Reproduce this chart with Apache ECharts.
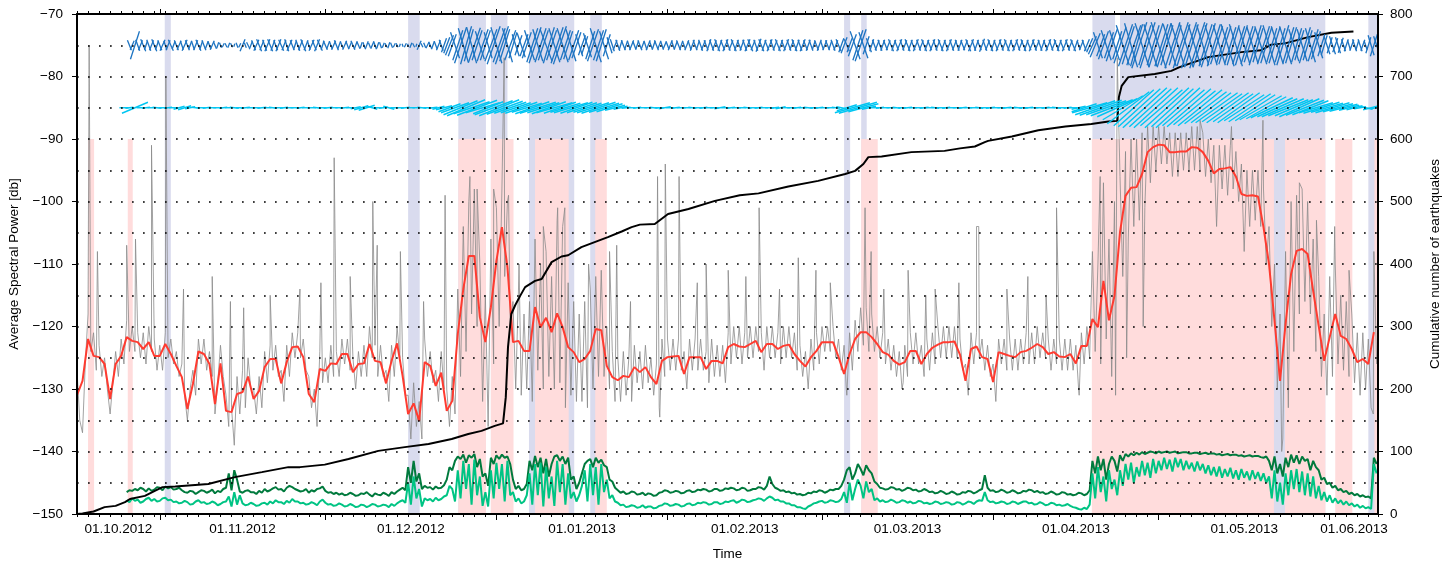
<!DOCTYPE html>
<html><head><meta charset="utf-8">
<script src="https://cdn.jsdelivr.net/npm/echarts@6/dist/echarts.min.js"></script>
<style>html,body{margin:0;padding:0;background:#fff}#c{width:1454px;height:562px}</style>
</head><body><div id="c"></div>
<script>
// time unit: days since 2012-10-17 00:00
const X_MAX = 235.75;
const monthTicks = [15,45,76,107,135,166,196,227];
const monthLabelPos = [7.5,30,60.5,91.5,121,150.5,181,211.5,231.4];
const monthLabels = ['01.10.2012','01.11.2012','01.12.2012','01.01.2013','01.02.2013','01.03.2013','01.04.2013','01.05.2013','01.06.2013'];

// shaded periods [start, end] in days
const blueBands = [[15.9,17.0],[60.0,62.1],[69.1,74.1],[75.0,78.0],[81.9,90.1],[93.0,95.1],[139.0,140.1],[142.1,143.1],[184.0,188.1],[189.0,226.2],[234.0,235.75]];
const pinkBands = [[2.0,3.1],[9.2,10.1],[69.1,74.1],[75.0,79.1],[83.0,89.1],[93.9,96.0],[142.1,145.1],[183.9,216.9],[218.9,226.2],[228.0,231.1],[235.1,235.75]];

// daily mean spectral power (red), one value per day from day 0
const redDb = [-131,-128.7,-122,-124.7,-124.9,-126,-131.6,-126,-124.7,-121.7,
-122.3,-122.5,-123.6,-122.5,-124.7,-124.7,-122.8,-124.4,-126.3,-128.1,
-133.2,-129.2,-124,-124.4,-126,-132.4,-125.9,-133.5,-133.7,-130.8,
-130.5,-128,-131.6,-130.3,-126.5,-125.2,-125.2,-129.1,-125.7,-123.3,
-123.2,-124.9,-130.8,-132.1,-126.8,-127.1,-125.9,-126,-124.4,-124.4,
-127.3,-126,-125.9,-122.8,-125.5,-125.7,-129.1,-125.5,-122.7,-127.9,
-134,-132.3,-135.1,-125.7,-126.3,-129.5,-127.4,-133.5,-131.9,-121.2,
-114,-108.7,-108.7,-118.5,-122.5,-116.9,-109.5,-104.1,-110.5,-122.5,
-122.3,-123.9,-123.9,-116.9,-120.1,-118.6,-120.9,-117.9,-120.1,-123.3,
-124.1,-125.7,-125.2,-123.9,-120.4,-120.6,-126.3,-128.1,-128.6,-127.9,
-128.1,-126.5,-127.3,-126.5,-128.1,-129.2,-125.5,-124.9,-124.8,-124.7,
-127.6,-124.9,-124.9,-124.9,-126.8,-125.5,-125.5,-125.9,-123.3,-122.8,
-123.2,-123.3,-122.8,-122.3,-124.1,-122.8,-122.8,-123.6,-123.1,-122.9,
-124.4,-125.5,-126.4,-124.9,-123.9,-122.5,-122.5,-122.5,-124.9,-127.6,
-124.4,-122,-120.9,-120.9,-121.7,-122.8,-124.1,-124.5,-125.5,-126.1,
-125.7,-123.9,-123.9,-126,-124.4,-123.4,-122.9,-122.5,-122.5,-122.4,
-124.5,-128.7,-123.6,-123.2,-124.9,-125.2,-128.9,-124.1,-124.4,-124.7,
-124.9,-124.1,-123.9,-123.4,-122.8,-123.3,-124.4,-124.1,-124.8,-124.9,
-124.4,-125.9,-123.1,-123.1,-118.8,-120.1,-112.7,-119,-115.1,-104.9,
-99.1,-97.8,-97.7,-95.6,-92.1,-91.3,-90.9,-91,-92.1,-92.1,
-92,-92,-91.3,-91.4,-92.1,-93.5,-95.5,-94.8,-94.7,-94.5,
-96,-98.8,-99.1,-99,-99.2,-104.1,-110,-119.1,-128.7,-119.6,
-111.6,-107.9,-107.6,-108.4,-114.3,-119.9,-125.5,-121.7,-118,-121.5,
-122,-123.6,-125.7,-125.2,-126,-120.9];

// raw spectral power (grey), every 12 h from day 0
const greyDb = [
-127,-135,-137,-126,-118,-124,-121,-127,-123,-128,-125,-130,-134,-129,-124,-128,-122,-126,-119,-124,
-120,-124,-121,-125,-121,-126,-120,-124,-122,-127,-123,-127,-121,-125,-122,-126,-124,-128,-126,-131,
-135,-130,-127,-131,-122,-126,-122,-127,-124,-128,-134,-129,-123,-128,-131,-136,-133,-139,-128,-134,
-127,-133,-125,-130,-130,-134,-128,-133,-124,-129,-123,-127,-123,-128,-127,-132,-123,-128,-121,-125,
-121,-125,-122,-127,-128,-133,-130,-136,-124,-129,-125,-129,-123,-128,-124,-128,-122,-126,-122,-127,
-125,-130,-124,-128,-123,-128,-120,-125,-123,-128,-123,-128,-127,-132,-123,-128,-120,-125,-125,-131,
-131,-138,-129,-136,-132,-138,-122,-128,-124,-129,-127,-132,-124,-130,-130,-136,-128,-134,-114,-128,
-104,-124,-100,-118,-98,-120,-110,-132,-115,-136,-106,-126,-101,-120,-98,-112,-100,-120,-116,-130,
-114,-131,-118,-130,-116,-132,-106,-127,-110,-130,-108,-128,-112,-130,-103,-129,-104,-133,-113,-131,
-116,-132,-118,-132,-116,-133,-114,-130,-112,-128,-111,-128,-120,-130,-124,-132,-125,-132,-124,-131,
-125,-132,-123,-129,-124,-130,-123,-129,-125,-131,-126,-133,-122,-128,-122,-127,-122,-127,-122,-127,
-124,-130,-122,-127,-122,-127,-122,-127,-124,-129,-122,-128,-123,-128,-123,-129,-121,-126,-120,-125,
-120,-126,-121,-125,-120,-125,-120,-124,-121,-127,-120,-125,-120,-125,-121,-126,-120,-125,-120,-125,
-121,-127,-123,-128,-124,-130,-122,-127,-121,-126,-120,-124,-120,-124,-120,-125,-122,-127,-123,-131,
-121,-127,-119,-124,-117,-123,-117,-124,-118,-124,-120,-125,-121,-126,-122,-127,-123,-128,-124,-130,
-123,-128,-121,-126,-121,-126,-123,-128,-122,-127,-121,-126,-120,-125,-120,-125,-120,-125,-120,-125,
-122,-127,-126,-131,-121,-126,-121,-125,-122,-127,-123,-128,-126,-132,-122,-126,-122,-127,-122,-127,
-122,-127,-122,-126,-121,-126,-121,-126,-120,-125,-121,-125,-122,-127,-122,-126,-122,-127,-122,-127,
-122,-127,-123,-130,-121,-126,-120,-125,-108,-124,-110,-126,-97,-122,-106,-128,-100,-131,-96,-112,
-92,-106,-90,-104,-90,-103,-89,-101,-88,-97,-88,-95,-88,-94,-88,-94,-89,-96,-89,-96,
-89,-95,-89,-95,-88,-95,-88,-95,-89,-96,-90,-97,-91,-104,-91,-98,-91,-99,-91,-98,
-92,-100,-94,-108,-95,-104,-95,-103,-95,-104,-98,-110,-104,-120,-110,-130,-118,-138,-108,-133,
-100,-124,-99,-118,-98,-116,-100,-118,-106,-124,-112,-128,-118,-131,-112,-128,-110,-126,-115,-127,
-116,-128,-118,-129,-121,-131,-121,-130,-122,-133,-108,-126];

// short spikes in the raw power
const spikeDay = [2.2,3.7,9.0,10.6,13.5,16.1,19.3,24.5,27.8,30.2,35.0,40.4,44.2,46.6,49.5,53.6,54.4,58.6,62.8,66.7,71.2,72.5,75.5,77.4,78.2,80.1,84.5,87.1,88.4,92.7,96.5,97.8,100.3,105.2,105.6,106.6,109.1,112.4,114.0,118.0,121.2,123.6,127.3,130.7,133.9,136.5,139.4,142.8,143.9,146.2,149.7,150.6,153.8,155.5,159.8,163.0,163.4,168.5,172.3,175.6,177.5,181.6,185.4,188.2,188.5,190.2,193.2,203.5,209.2,214.9,218.3,221.5,224.6,227.9,230.5,234.9];
const spikeDb = [-75,-108,-107,-106,-91,-80,-114,-112,-116,-117,-115,-114,-113,-93,-112,-100,-107,-108,-116,-99,-96,-98,-98,-77,-99,-110,-104,-101,-101,-110,-108,-107,-116,-96,-134.5,-94,-96,-113,-110,-111,-112,-101,-114,-109,-111,-113,-130,-101,-108,-114,-129,-111,-115,-114,-113,-104,-104,-114,-112,-115,-101,-131,-96,-131,-77,-125,-120,-87,-88,-87,-140,-97,-103,-104,-111,-134];

// cumulative number of earthquakes
const quakeDay = [0,1,3,5,7,8.7,9.6,12.3,14.1,15.5,17.8,23.8,28.6,33.5,38.3,40.4,44.9,49.2,54.6,59.4,63.7,67.9,70.9,73.3,75.7,77.2,77.7,78.1,78.7,79.4,80.3,81.2,83,84.2,86,87.8,89,91.4,93.8,96.2,98.7,100.5,102,104.7,107.1,110.8,115.6,120.1,123.5,128.9,134.3,139.2,141,142.5,143.4,145.8,151.2,157.2,160,162.7,164.5,165.1,169.4,174.2,179.1,183.8,186.9,188.5,188.8,189.3,190.5,195.3,198.3,199.8,205,211,214.6,216.4,218.9,223.1,227.3,231.3];
const quakeCount = [0,1,4,11,13,19,24,29,37,43,44,48,59,67,75,75,79,88,101,107,112,120,128,133,141,145,187,267,320,334,349,363,373,376,403,412,414,427,435,443,452,459,463,464,480,488,501,510,513,524,533,544,549,560,571,572,579,581,585,588,595,597,604,614,620,624,628,629,667,685,699,704,709,715,731,739,742,751,753,763,770,772];

// green power bands, every 12 h from day 9
const darkGreenDb = [
-146.5,-146.2,-146.3,-146.0,-146.2,-145.8,-146.0,-146.4,-145.9,-146.3,-146.1,-145.7,-145.8,-146.2,-145.6,-145.9,-145.7,-146.1,-146.0,-145.8,
-146.2,-146.5,-146.6,-146.3,-146.4,-146.8,-146.5,-146.2,-146.3,-146.6,-146.4,-146.1,-146.7,-146.3,-146.5,-146.0,-145.8,-143.5,-146.2,-143.0,
-144.5,-146.4,-146.6,-146.3,-146.2,-146.5,-146.5,-146.8,-146.3,-146.6,-146.0,-146.4,-146.2,-145.9,-145.7,-146.1,-146.0,-146.4,-145.8,-145.5,
-145.7,-146.0,-146.2,-146.4,-146.3,-146.0,-146.6,-146.2,-146.4,-146.0,-145.9,-145.6,-146.3,-146.6,-146.5,-146.8,-146.6,-146.9,-146.7,-147.0,
-146.9,-146.6,-146.8,-147.1,-147.0,-146.7,-146.8,-146.5,-146.9,-147.2,-146.7,-146.9,-147.0,-146.6,-146.8,-147.1,-146.5,-146.8,-146.4,-146.1,
-145.8,-146.2,-142.5,-145.0,-141.5,-144.8,-143.5,-146.0,-145.5,-145.8,-145.7,-146.1,-145.6,-145.9,-145.8,-145.4,-144.5,-142.5,-143.0,-141.5,
-140.8,-141.2,-140.5,-141.8,-140.6,-141.0,-140.4,-142.5,-141.2,-144.0,-143.5,-145.5,-141.0,-142.0,-140.6,-141.2,-140.5,-141.0,-140.8,-142.0,
-144.5,-146.0,-145.5,-146.2,-146.0,-145.2,-141.5,-143.0,-140.7,-142.5,-141.0,-143.5,-141.2,-144.0,-142.0,-140.8,-140.6,-141.5,-140.8,-142.0,
-141.0,-144.5,-144.0,-146.0,-145.0,-143.5,-142.0,-141.5,-141.2,-142.5,-141.0,-141.8,-141.3,-142.2,-142.5,-144.5,-144.8,-145.8,-146.2,-146.6,
-146.4,-146.8,-146.7,-146.4,-146.5,-146.9,-146.8,-146.6,-147.0,-146.7,-146.8,-147.1,-147.0,-146.6,-146.5,-146.2,-146.3,-146.6,-146.5,-146.3,
-146.4,-146.7,-146.6,-146.3,-146.2,-146.5,-146.4,-146.1,-146.2,-146.0,-146.1,-146.4,-146.3,-146.0,-146.0,-146.3,-146.2,-145.9,-146.0,-145.8,
-145.9,-146.2,-146.1,-145.8,-145.9,-146.3,-146.2,-146.0,-146.0,-145.7,-145.8,-146.1,-145.5,-144.0,-145.2,-145.8,-146.0,-146.3,-146.2,-146.5,
-146.4,-146.7,-146.6,-146.9,-146.8,-147.0,-146.9,-146.6,-146.7,-146.4,-146.5,-146.2,-146.3,-146.6,-146.4,-146.1,-146.2,-146.0,-146.0,-145.5,
-144.5,-143.0,-142.5,-144.5,-143.5,-142.0,-142.8,-143.8,-142.2,-143.0,-143.5,-144.8,-145.2,-145.8,-145.9,-146.1,-146.0,-145.7,-145.8,-146.1,
-146.0,-146.3,-146.1,-145.8,-145.9,-146.2,-146.1,-146.4,-146.3,-146.0,-146.2,-146.5,-146.4,-146.7,-146.6,-146.3,-146.5,-146.8,-146.7,-146.4,
-146.6,-146.9,-146.8,-146.5,-146.6,-146.3,-146.4,-146.7,-146.5,-146.2,-146.0,-143.8,-145.8,-146.3,-146.2,-146.5,-146.4,-146.1,-146.3,-146.6,
-146.5,-146.2,-146.4,-146.7,-146.6,-146.3,-146.4,-146.1,-146.2,-146.5,-146.3,-146.6,-146.5,-146.8,-146.7,-146.4,-146.6,-146.9,-146.8,-146.5,
-146.6,-146.9,-146.8,-147.0,-146.9,-146.6,-146.7,-147.0,-146.8,-146.2,-141.5,-143.5,-140.8,-143.0,-141.2,-144.5,-142.0,-140.8,-141.5,-143.2,
-140.6,-141.5,-140.4,-140.8,-140.3,-140.6,-140.2,-140.5,-140.1,-140.4,-140.2,-140.0,-140.1,-140.3,-140.0,-140.2,-140.1,-140.0,-140.2,-140.1,
-140.0,-140.3,-140.2,-140.1,-140.1,-140.3,-140.3,-140.2,-140.2,-140.4,-140.3,-140.2,-140.4,-140.3,-140.3,-140.5,-140.4,-140.6,-140.5,-140.4,
-140.6,-140.5,-140.5,-140.7,-140.6,-140.8,-140.7,-140.6,-140.8,-140.7,-140.7,-140.9,-141.0,-140.8,-141.5,-143.0,-140.8,-143.5,-142.0,-144.0,
-141.0,-142.5,-140.5,-141.8,-140.6,-142.0,-140.8,-141.5,-141.2,-143.0,-141.5,-142.5,-143.0,-144.5,-144.2,-145.2,-145.0,-145.8,-145.5,-146.2,
-146.0,-146.5,-146.3,-146.8,-146.6,-147.0,-146.8,-147.2,-147.0,-147.3,-147.2,-147.5,-141.0,-142.0];
const lightGreenDb = [
-147.8,-148.1,-147.5,-147.9,-147.7,-148.2,-148.0,-147.6,-147.4,-147.9,-147.6,-148.0,-147.9,-147.5,-147.4,-147.8,-147.7,-148.1,-148.0,-148.3,
-148.2,-147.9,-148.1,-148.5,-148.4,-148.0,-147.8,-148.2,-148.1,-148.4,-148.3,-148.0,-148.2,-148.6,-148.4,-148.1,-148.0,-147.2,-148.8,-146.5,
-148.5,-147.0,-148.3,-148.6,-148.5,-148.2,-148.4,-148.7,-148.6,-148.3,-148.2,-148.5,-148.0,-148.3,-147.8,-148.1,-148.1,-148.4,-147.9,-148.2,
-147.6,-148.0,-148.0,-148.3,-148.2,-148.5,-148.4,-148.1,-148.3,-148.6,-148.0,-147.7,-148.2,-148.5,-148.4,-148.7,-148.6,-148.3,-148.5,-148.8,
-148.7,-148.4,-148.6,-148.9,-148.8,-148.5,-148.6,-148.9,-148.7,-148.4,-148.5,-148.8,-148.7,-148.5,-148.6,-148.9,-148.4,-148.7,-148.3,-148.0,
-147.8,-148.2,-145.0,-148.5,-144.0,-147.5,-146.0,-148.8,-147.5,-147.8,-147.6,-148.0,-147.4,-147.8,-147.6,-147.2,-147.0,-145.5,-146.0,-148.0,
-143.0,-147.5,-141.5,-146.0,-142.0,-148.5,-141.3,-147.0,-144.0,-148.7,-146.5,-148.8,-143.0,-147.5,-141.8,-146.0,-142.0,-148.0,-141.5,-147.0,
-146.5,-148.0,-147.5,-148.3,-148.0,-147.0,-143.5,-148.5,-142.0,-147.0,-141.8,-148.8,-142.5,-147.5,-144.0,-148.7,-141.5,-146.5,-142.0,-148.5,
-143.5,-147.5,-146.5,-148.0,-147.0,-145.5,-143.0,-148.0,-142.0,-147.0,-142.5,-148.5,-142.0,-146.5,-144.5,-147.5,-147.0,-148.0,-148.2,-148.6,
-148.5,-148.9,-148.8,-148.6,-148.7,-149.0,-148.9,-148.6,-149.0,-148.8,-148.8,-149.1,-149.0,-148.7,-148.6,-148.3,-148.4,-148.7,-148.6,-148.4,
-148.5,-148.8,-148.7,-148.4,-148.3,-148.6,-148.5,-148.2,-148.3,-148.1,-148.2,-148.5,-148.4,-148.1,-148.1,-148.4,-148.3,-148.0,-148.1,-147.9,
-147.8,-148.2,-148.0,-147.7,-147.8,-148.1,-148.0,-147.8,-147.7,-147.5,-147.6,-147.9,-147.5,-147.2,-147.4,-147.8,-147.7,-148.0,-148.0,-148.3,
-148.3,-148.6,-148.6,-148.9,-148.9,-149.1,-149.2,-148.8,-148.6,-148.3,-148.2,-148.0,-147.9,-148.2,-148.1,-147.8,-147.9,-148.1,-148.0,-147.6,
-146.5,-148.2,-145.0,-147.8,-146.0,-144.5,-145.5,-147.5,-144.8,-146.5,-146.0,-147.8,-147.5,-148.0,-147.8,-148.1,-148.0,-147.7,-147.9,-148.2,
-148.1,-147.8,-147.9,-148.2,-148.0,-148.3,-148.2,-147.9,-148.0,-148.3,-148.2,-148.4,-148.3,-148.0,-148.1,-148.4,-148.3,-148.1,-148.2,-148.5,
-148.4,-148.1,-148.2,-148.5,-148.3,-148.0,-148.1,-148.4,-148.0,-147.8,-147.9,-146.5,-147.8,-148.1,-148.0,-148.3,-148.2,-148.0,-148.1,-148.4,
-148.3,-148.0,-148.1,-148.4,-148.2,-148.0,-148.0,-148.3,-148.2,-148.5,-148.4,-148.1,-148.3,-148.6,-148.5,-148.2,-148.3,-148.6,-148.5,-148.7,
-148.6,-148.4,-148.7,-148.9,-149.0,-149.2,-149.3,-149.0,-149.2,-148.5,-143.5,-147.5,-142.5,-146.5,-144.0,-148.0,-143.0,-146.0,-144.5,-147.0,
-143.0,-145.5,-142.0,-144.5,-141.8,-145.0,-142.5,-144.0,-141.5,-143.8,-141.8,-144.2,-141.2,-143.5,-141.5,-143.0,-141.0,-142.8,-141.3,-143.2,
-141.0,-142.5,-141.2,-143.0,-141.5,-142.8,-141.8,-143.2,-141.6,-143.0,-142.0,-143.5,-142.2,-143.8,-142.5,-144.0,-142.4,-144.2,-142.8,-144.0,
-142.6,-144.3,-143.0,-144.5,-142.8,-144.2,-143.2,-144.6,-143.0,-144.4,-143.3,-144.7,-143.5,-145.0,-144.0,-147.5,-143.0,-148.0,-145.0,-148.5,
-143.5,-147.0,-143.0,-146.0,-142.8,-146.5,-143.2,-147.0,-143.5,-147.2,-144.0,-147.5,-145.5,-147.8,-146.5,-148.0,-147.0,-148.2,-147.5,-148.3,
-147.8,-148.5,-148.0,-148.6,-148.3,-148.8,-148.5,-149.0,-148.7,-149.1,-148.9,-149.2,-142.0,-143.5];

// wind sticks [u, v] at -75 dB level, every 12 h from day 9.5
const blueWind = [[-4,10],
[4,9],[9,28],[-4,11],[4,10],[-5,12],[3,9],[-4,11],[4,10],[-5,12],[3,9],[-4,10],[5,11],[-3,9],[4,10],[-5,11],[3,8],[-4,10],[4,9],[-3,9],[5,11],
[-4,10],[3,8],[-3,9],[4,10],[-5,11],[3,9],[-4,10],[3,8],[-3,8],[4,9],[-3,7],[2,6],[-2,5],[2,4],[-2,4],[2,5],[-2,4],[1,3],[-2,5],[2,4],
[5,12],[-2,5],[-3,6],[3,8],[-4,10],[5,11],[-5,12],[4,10],[-4,11],[5,12],[-5,12],[4,11],[-4,10],[5,12],[-5,11],[4,10],[-4,12],[5,11],[-4,10],[3,9],
[-4,11],[4,10],[-5,12],[4,10],[-3,9],[5,11],[-4,10],[5,12],[-5,11],[3,9],[-4,9],[3,8],[-3,8],[4,9],[-4,10],[3,8],[-3,7],[4,9],[-3,8],[3,7],
[-4,9],[3,8],[-3,7],[2,6],[-2,6],[3,8],[-2,5],[3,7],[-3,8],[2,6],[-2,6],[2,5],[-2,4],[2,6],[-2,5],[2,4],[-2,4],[1,3],[-1,3],[2,4],
[-1,3],[2,5],[-2,4],[1,3],[4,9],[-2,4],[-2,5],[3,6],[-3,7],[3,8],[-3,8],[4,10],[-4,11],[5,14],[6,16],[8,20],[8,22],[-9,26],[10,30],[12,36],
[-10,34],[11,38],[9,32],[-10,36],[12,35],[10,30],[-9,28],[11,32],[10,30],[-8,26],[12,32],[13,38],[-11,36],[12,34],[13,38],[10,32],[-10,34],[11,30],[8,26],[-7,22],
[7,20],[-8,24],[8,22],[9,26],[-10,30],[11,34],[12,36],[-10,32],[11,34],[10,30],[-12,32],[11,36],[10,30],[-11,34],[12,36],[13,38],[-11,34],[10,30],[9,28],[-10,32],
[10,30],[9,26],[-7,22],[7,20],[6,18],[-8,24],[9,28],[11,32],[-11,34],[10,30],[10,32],[-9,28],[7,22],[-5,16],[-4,12],[4,10],[-4,11],[3,10],[-4,10],[3,9],
[-3,9],[4,10],[-3,8],[3,9],[-4,10],[3,8],[-3,9],[4,10],[-3,8],[3,9],[-4,10],[3,8],[-3,9],[3,7],[-3,8],[4,10],[-3,9],[3,8],[-4,10],[3,9],
[-3,8],[4,10],[-3,9],[4,11],[-4,10],[3,9],[-4,11],[4,10],[-4,10],[4,12],[-4,11],[4,10],[-5,12],[4,11],[-4,10],[5,12],[-4,11],[4,10],[-5,12],[4,11],
[-4,10],[4,11],[-4,11],[5,12],[-5,12],[4,10],[-4,11],[5,13],[-5,12],[4,11],[-4,10],[5,12],[-4,11],[4,10],[-5,12],[4,11],[-4,10],[5,12],[-4,11],[4,10],
[-5,12],[4,11],[-4,11],[5,12],[-4,10],[4,11],[-4,11],[3,9],[-4,10],[4,11],[-3,9],[4,10],[-4,10],[3,9],[-4,11],[4,10],[-5,12],[5,14],[6,16],[-5,12],
[5,14],[8,22],[-10,28],[10,30],[11,32],[-9,26],[6,18],[-5,14],[4,12],[-4,11],[4,10],[-4,11],[4,11],[-4,10],[4,10],[-5,12],[4,11],[-4,10],[5,12],[-4,11],
[4,10],[-5,12],[4,11],[-4,10],[5,12],[-4,11],[4,10],[-5,12],[4,11],[-4,10],[5,12],[-4,11],[4,10],[-5,12],[4,11],[-4,10],[5,12],[-4,11],[4,10],[-4,11],
[4,11],[-4,10],[4,10],[-5,12],[5,12],[-4,11],[4,11],[-4,10],[5,13],[-4,11],[4,10],[-5,12],[4,11],[-4,10],[5,12],[-4,11],[4,10],[-5,12],[4,11],[-4,10],
[5,12],[-4,11],[4,10],[-5,12],[4,11],[-4,10],[5,12],[-4,11],[4,10],[-4,11],[4,11],[-4,10],[5,12],[-4,11],[4,10],[-5,12],[4,11],[-4,10],[5,12],[-4,11],
[4,10],[-5,12],[4,11],[-3,9],[4,10],[-4,11],[5,12],[6,14],[8,18],[10,24],[-9,26],[8,22],[10,28],[-10,30],[9,26],[11,32],[-10,30],[9,28],[12,36],[-13,40],
[14,42],[12,38],[-13,44],[14,40],[12,42],[15,46],[-14,44],[12,40],[15,46],[-13,42],[12,40],[14,44],[-15,46],[13,42],[14,44],[12,40],[-13,42],[15,46],[12,40],[-14,44],
[15,46],[13,42],[-14,44],[15,46],[13,42],[-12,40],[15,46],[14,44],[-12,40],[13,42],[14,44],[-12,40],[13,42],[12,38],[-12,40],[11,36],[12,38],[-13,42],[11,36],[12,40],
[-13,42],[12,38],[12,40],[-11,36],[12,38],[11,34],[-11,36],[12,40],[10,34],[-12,38],[12,38],[11,36],[-12,40],[10,34],[11,36],[-12,38],[10,34],[12,40],[-12,38],[11,36],
[11,36],[-10,32],[10,34],[9,30],[-10,32],[11,36],[9,30],[-10,34],[10,32],[9,28],[-8,26],[7,22],[6,20],[-6,18],[5,16],[-6,18],[5,14],[-5,16],[5,15],[-4,12],
[4,12],[-3,10],[4,11],[-4,12],[3,10],[-4,12],[4,11],[-3,9],[5,16],[-6,20],[7,22],[-6,18]];

// current sticks [u, v] at -85 dB level, daily from day 8.5
const cyanWind = [
[9,0],[8,1],[26,11],[8,0],[8,1],[8,0],[9,-1],[8,0],[8,1],[9,0],
[11,3],[13,4],[10,2],[8,-1],[9,0],[8,1],[8,0],[9,0],[8,1],[8,0],
[9,-1],[8,0],[9,1],[8,0],[8,0],[9,1],[8,0],[8,-1],[9,0],[8,1],
[8,0],[9,0],[8,1],[8,0],[9,0],[8,-1],[8,0],[9,1],[8,0],[8,0],
[9,1],[8,0],[10,2],[14,4],[16,5],[10,-3],[8,0],[9,1],[11,-3],[8,0],
[8,0],[9,1],[8,0],[8,0],[9,-1],[8,0],[9,1],[12,3],[16,4],[22,8],
[28,10],[34,14],[38,16],[36,12],[40,15],[34,10],[30,12],[38,14],[40,16],[36,13],
[32,11],[30,10],[32,11],[30,9],[34,12],[36,11],[32,10],[34,12],[36,10],[32,11],
[30,9],[34,10],[32,11],[30,10],[28,9],[32,10],[34,11],[30,9],[26,8],[20,5],
[14,3],[9,1],[8,0],[8,1],[9,0],[8,0],[8,-1],[9,0],[12,2],[8,0],
[8,1],[9,0],[8,0],[8,-1],[9,0],[8,1],[8,0],[9,0],[11,2],[8,0],
[8,1],[9,0],[8,0],[8,-1],[9,0],[8,1],[8,0],[9,0],[8,1],[10,2],
[8,0],[9,0],[8,1],[8,0],[9,-1],[8,0],[8,1],[9,0],[8,0],[8,-1],
[10,-2],[20,6],[35,10],[38,11],[30,8],[14,3],[9,0],[8,1],[8,0],[9,0],
[8,-1],[8,0],[9,1],[8,0],[8,0],[9,1],[8,0],[8,-1],[9,0],[8,1],
[8,0],[9,0],[8,1],[8,0],[9,0],[8,-1],[8,0],[9,1],[8,0],[8,0],
[9,1],[8,0],[8,-1],[9,0],[8,1],[8,0],[9,0],[8,1],[8,0],[9,-1],
[8,0],[8,1],[9,0],[14,3],[25,8],[35,10],[40,14],[42,15],[40,14],[42,16],
[40,18],[40,24],[42,32],[40,36],[42,38],[44,40],[42,38],[44,40],[42,36],[44,40],
[42,38],[44,40],[42,36],[44,38],[42,34],[44,36],[42,32],[40,30],[42,30],[40,28],
[42,30],[40,28],[42,30],[40,26],[42,28],[40,26],[42,24],[40,22],[42,20],[40,18],
[42,18],[40,16],[38,16],[40,18],[38,15],[36,14],[34,10],[36,11],[32,9],[34,10],
[30,8],[28,7],[20,5],[16,4],[12,2],[14,-3],[16,4],[12,2]];

const GREY_T0 = 0, GREY_STEP = 0.5, GREEN_T0 = 9, GREEN_STEP = 0.5;
const BLUE_T0 = 9.5, BLUE_STEP = 0.5, CYAN_T0 = 8.5, CYAN_STEP = 1;
const BLUE_LEVEL = -75, CYAN_LEVEL = -85;
const STICK_PX = 1.0;

const FONT = 'Liberation Sans, Arial, Helvetica, sans-serif';
const FS = 13.5;

const greySeries = greyDb.map((v,i)=>[GREY_T0 + i*GREY_STEP, v]);
spikeDay.forEach((d,i)=>greySeries.push([d, spikeDb[i]]));
greySeries.sort((a,b)=>a[0]-b[0]);
const redSeries = redDb.map((v,i)=>[i, v]);
const darkG = darkGreenDb.map((v,i)=>[GREEN_T0 + i*GREEN_STEP, v]);
const lightG = lightGreenDb.map((v,i)=>[GREEN_T0 + i*GREEN_STEP, v]);
const quake = quakeDay.map((d,i)=>[d, quakeCount[i]]);

function bandSeries(bands, top, color, z){
  return {type:'custom', xAxisIndex:0, yAxisIndex:0, z:z, silent:true, animation:false,
    data: bands.map(b=>[b[0], b[1]]),
    encode:{x:[0,1]},
    renderItem(params, api){
      const p1 = api.coord([api.value(0), top]);
      const p2 = api.coord([api.value(1), -150]);
      return {type:'rect', shape:{x:p1[0], y:p1[1], width:p2[0]-p1[0], height:p2[1]-p1[1]}, style:{fill:color}};
    }};
}
function stickSeries(pairs, t0, step, level, color, lw){
  return {type:'custom', xAxisIndex:0, yAxisIndex:0, z:4, silent:true, animation:false, clip:true,
    data: pairs.map((p,i)=>[t0 + i*step, p[0], p[1]]),
    encode:{x:0},
    renderItem(params, api){
      const c = api.coord([api.value(0), level]);
      const hu = api.value(1)*STICK_PX/2, hv = api.value(2)*STICK_PX/2;
      return {type:'line', shape:{x1:c[0]-hu, y1:c[1]+hv, x2:c[0]+hu, y2:c[1]-hv}, style:{stroke:color, lineWidth:lw}};
    }};
}
function labelFor(v){
  let best = 0;
  for (let i=1;i<monthLabelPos.length;i++) if (Math.abs(monthLabelPos[i]-v) < Math.abs(monthLabelPos[best]-v)) best = i;
  return monthLabels[best];
}
const axisLineStyle = {color:'#000', width:2};
const chart = echarts.init(document.getElementById('c'), null, {renderer:'canvas'});
chart.setOption({
  animation:false,
  backgroundColor:'#fff',
  grid:{left:77, top:14, width:1301, height:500, containLabel:false, outerBoundsMode:'none'},
  xAxis:[
    {type:'value', position:'bottom', min:0, max:X_MAX, z:10,
     axisLine:{show:true, onZero:false, lineStyle:axisLineStyle},
     axisTick:{show:true, customValues:monthTicks, length:6, lineStyle:{color:'#000', width:1}},
     axisLabel:{show:true, customValues:monthLabelPos, formatter:labelFor, color:'#000', fontSize:FS, fontFamily:FONT, margin:8},
     splitLine:{show:false},
     name:'Time', nameLocation:'middle', nameGap:33, nameTextStyle:{color:'#000', fontSize:FS, fontFamily:FONT}},
    {type:'value', position:'top', min:0, max:X_MAX, z:10,
     axisLine:{show:true, onZero:false, lineStyle:axisLineStyle},
     axisTick:{show:true, customValues:monthTicks, length:5, lineStyle:{color:'#000', width:1}},
     axisLabel:{show:false}, splitLine:{show:false}},
    {type:'value', position:'bottom', min:0, max:X_MAX, interval:2, z:10,
     axisLine:{show:false}, axisTick:{show:true, length:3, lineStyle:{color:'#000', width:1}},
     axisLabel:{show:false}, splitLine:{show:false}},
    {type:'value', position:'top', min:0, max:X_MAX, interval:2, z:10,
     axisLine:{show:false}, axisTick:{show:true, length:3, lineStyle:{color:'#000', width:1}},
     axisLabel:{show:false}, splitLine:{show:false}}
  ],
  yAxis:[
    {type:'value', position:'left', min:-150, max:-70, interval:10, z:10,
     axisLine:{show:true, onZero:false, lineStyle:axisLineStyle},
     axisTick:{show:true, length:5, lineStyle:{color:'#000', width:1}},
     axisLabel:{formatter:v=>(v<0?'\u2212':'')+Math.abs(v), color:'#000', fontSize:FS, fontFamily:FONT, margin:14},
     splitLine:{show:true, lineStyle:{type:[1.7,9.3], color:'#000', width:1.7}},
     minorTick:{show:false, splitNumber:2},
     minorSplitLine:{show:true, lineStyle:{type:[1.7,9.3], color:'#000', width:1.7}},
     name:'Average Spectral Power [db]', nameLocation:'middle', nameGap:50, nameRotate:90,
     nameTextStyle:{color:'#000', fontSize:FS, fontFamily:FONT}},
    {type:'value', position:'right', min:0, max:800, interval:100, z:10,
     axisLine:{show:true, onZero:false, lineStyle:axisLineStyle},
     axisTick:{show:true, length:5, lineStyle:{color:'#000', width:1}},
     axisLabel:{color:'#000', fontSize:FS, fontFamily:FONT, margin:12},
     splitLine:{show:false},
     name:'Cumulative number of earthquakes', nameLocation:'middle', nameGap:50, nameRotate:90,
     nameTextStyle:{color:'#000', fontSize:FS, fontFamily:FONT}}
  ],
  series:[
    bandSeries(blueBands, -70, '#d9dbee', 1),
    bandSeries(pinkBands, -90, '#ffdcdc', 1.5),
    {type:'line', data:greySeries, xAxisIndex:0, yAxisIndex:0, showSymbol:false, symbol:'none', z:2,
     lineStyle:{color:'#8a8a8a', width:0.8}, silent:true},
    {type:'line', data:darkG, showSymbol:false, symbol:'none', z:2, lineStyle:{color:'#007a3d', width:2}, silent:true},
    {type:'line', data:lightG, showSymbol:false, symbol:'none', z:2, lineStyle:{color:'#00c484', width:2}, silent:true},
    {type:'line', data:redSeries, showSymbol:false, symbol:'none', z:3, lineStyle:{color:'#ff3b30', width:2}, silent:true},
    {type:'line', data:quake, yAxisIndex:1, showSymbol:false, symbol:'none', z:3, lineStyle:{color:'#000', width:2}, silent:true},
    stickSeries(blueWind, BLUE_T0, BLUE_STEP, BLUE_LEVEL, '#1d74c2', 1.3),
    stickSeries(cyanWind, CYAN_T0, CYAN_STEP, CYAN_LEVEL, '#00c6f2', 1.4)
  ]
});
</script>
</body></html>
